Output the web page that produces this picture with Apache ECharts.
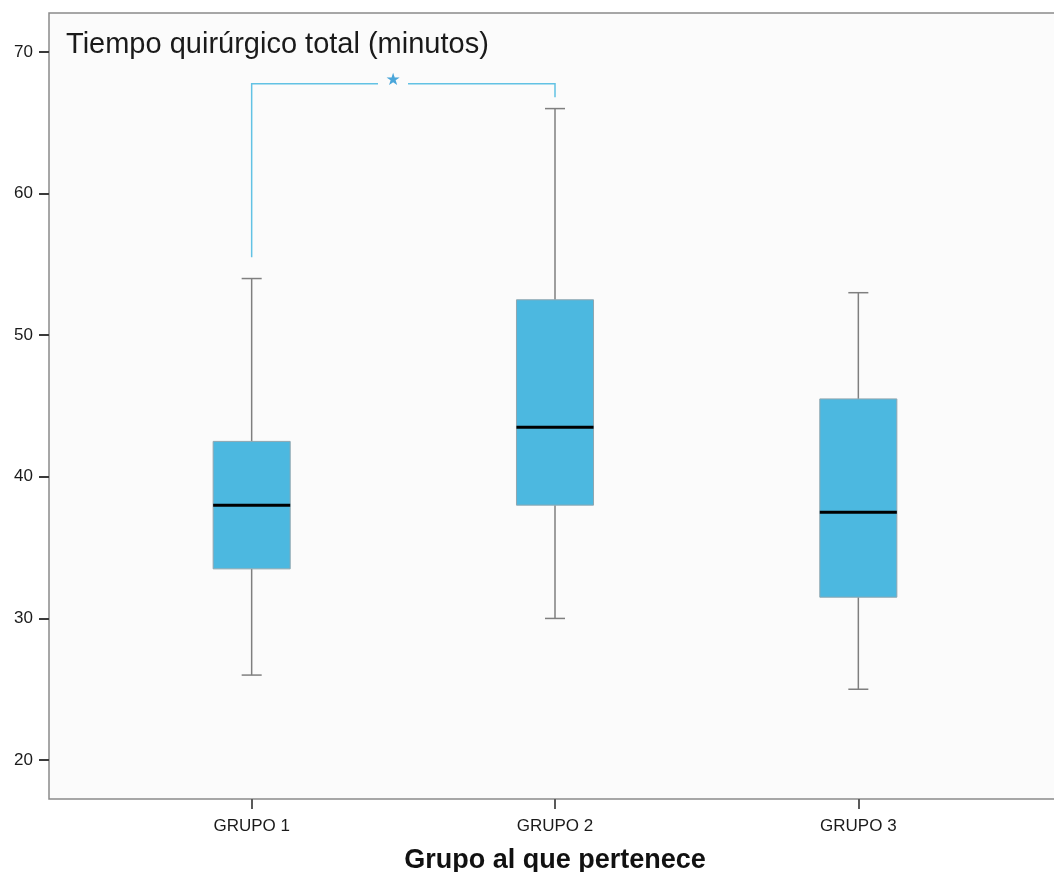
<!DOCTYPE html>
<html>
<head>
<meta charset="utf-8">
<style>
  html, body { margin: 0; padding: 0; background: #ffffff; }
  #chart { width: 1054px; height: 872px; }
</style>
<script src="https://cdn.jsdelivr.net/npm/echarts@6/dist/echarts.min.js"></script>
</head>
<body>
<div id="chart"></div>
<script>
// ----- Data -----
const categories = ['GRUPO 1', 'GRUPO 2', 'GRUPO 3'];
const whiskerLow = [26, 30, 25];
const quartile1 = [33.5, 38, 31.5];
const median = [38, 43.5, 37.5];
const quartile3 = [42.5, 52.5, 45.5];
const whiskerHigh = [54, 66, 53];
const yTicks = [20, 30, 40, 50, 60, 70];

// significance bracket: [fromIdx, toIdx, level, leftEnd, rightEnd]
const bracketPairs = [[0, 1, 67.75, 55.5, 66.8]];
const bracketMarks = ['★'];

const FONT = '"Liberation Sans", Arial, sans-serif';
const BOX_FILL = '#4cb8e0';
const LINE_GREY = '#7f7f7f';
const BRACKET_BLUE = '#62c2e4';

// ----- Renderers -----
function renderBox(params, api) {
  const x = api.value(0);
  const pLow = api.coord([x, api.value(1)]);
  const pQ1 = api.coord([x, api.value(2)]);
  const pMed = api.coord([x, api.value(3)]);
  const pQ3 = api.coord([x, api.value(4)]);
  const pHigh = api.coord([x, api.value(5)]);
  const band = api.size([1, 0])[0];
  const half = band * 0.127;
  const cap = band * 0.033;
  const cx = pMed[0];
  const grey = { stroke: LINE_GREY, lineWidth: 1.5 };
  return {
    type: 'group',
    children: [
      { type: 'line', shape: { x1: cx, y1: pHigh[1], x2: cx, y2: pQ3[1] }, style: grey },
      { type: 'line', shape: { x1: cx, y1: pQ1[1], x2: cx, y2: pLow[1] }, style: grey },
      { type: 'line', shape: { x1: cx - cap, y1: pHigh[1], x2: cx + cap, y2: pHigh[1] }, style: grey },
      { type: 'line', shape: { x1: cx - cap, y1: pLow[1], x2: cx + cap, y2: pLow[1] }, style: grey },
      {
        type: 'rect',
        shape: { x: cx - half, y: pQ3[1], width: half * 2, height: pQ1[1] - pQ3[1] },
        style: { fill: BOX_FILL, stroke: '#8fa6b0', lineWidth: 1 }
      },
      {
        type: 'line',
        shape: { x1: cx - half, y1: pMed[1], x2: cx + half, y2: pMed[1] },
        style: { stroke: '#000000', lineWidth: 3 }
      }
    ]
  };
}

function renderBracket(params, api) {
  const a = api.value(0), b = api.value(1);
  const level = api.value(2);
  const pL = api.coord([a, level]);
  const pR = api.coord([b, level]);
  const pLe = api.coord([a, api.value(3)]);
  const pRe = api.coord([b, api.value(4)]);
  const starX = pL[0] + (pR[0] - pL[0]) * 0.466;
  const gap = 15;
  const st = { stroke: BRACKET_BLUE, lineWidth: 1.5 };
  return {
    type: 'group',
    children: [
      { type: 'polyline', shape: { points: [[pLe[0], pLe[1]], [pL[0], pL[1]], [starX - gap, pL[1]]] }, style: Object.assign({ fill: 'none' }, st) },
      { type: 'polyline', shape: { points: [[starX + gap, pR[1]], [pR[0], pR[1]], [pRe[0], pRe[1]]] }, style: Object.assign({ fill: 'none' }, st) },
      {
        type: 'text',
        style: {
          text: bracketMarks[params.dataIndex], x: starX, y: pL[1] - 3,
          fill: '#4aa6da', font: '17px "DejaVu Sans", sans-serif', align: 'center', verticalAlign: 'middle'
        }
      }
    ]
  };
}

// ----- Chart -----
const chart = echarts.init(document.getElementById('chart'), null, { renderer: 'canvas' });

chart.setOption({
  backgroundColor: '#ffffff',
  animation: false,
  title: {
    text: 'Tiempo quirúrgico total (minutos)',
    left: 66,
    top: 30,
    padding: 0,
    textStyle: { fontFamily: FONT, fontSize: 29, fontWeight: 'normal', color: '#1a1a1a' }
  },
  grid: [
    // frame / plot background, runs off the right edge
    {
      left: 49, width: 1200, top: 13, bottom: 73, outerBoundsMode: 'none',
      show: true, backgroundColor: '#fbfbfb', borderColor: '#8a8a8a', borderWidth: 1.5, z: 0
    },
    // data grid
    { left: 100, right: 44, top: 13, bottom: 73, outerBoundsMode: 'none' }
  ],
  xAxis: [
    { gridIndex: 0, type: 'value', show: false },
    {
      gridIndex: 1,
      type: 'category',
      data: categories,
      boundaryGap: true,
      axisLine: { show: false },
      axisTick: { show: true, inside: false, alignWithLabel: true, length: 10, lineStyle: { color: '#5a5a5a', width: 2 } },
      axisLabel: { margin: 19, fontFamily: FONT, fontSize: 17, color: '#1a1a1a' },
      name: 'Grupo al que pertenece',
      nameLocation: 'middle',
      nameGap: 48,
      nameTextStyle: { fontFamily: FONT, fontSize: 27, fontWeight: 'bold', color: '#111111' }
    }
  ],
  yAxis: [
    { gridIndex: 0, type: 'value', show: false },
    {
      gridIndex: 1,
      type: 'value',
      min: 17.25,
      max: 72.75,
      offset: 51,
      axisLine: { show: false },
      splitLine: { show: false },
      axisTick: { show: true, length: 10, customValues: yTicks, lineStyle: { color: '#3a3a3a', width: 2 } },
      axisLabel: { margin: 16, customValues: yTicks, fontFamily: FONT, fontSize: 17, color: '#1a1a1a' }
    }
  ],
  series: [
    {
      type: 'custom',
      xAxisIndex: 1,
      yAxisIndex: 1,
      renderItem: renderBox,
      encode: { x: 0, y: [1, 2, 3, 4, 5] },
      data: categories.map((c, i) => [i, whiskerLow[i], quartile1[i], median[i], quartile3[i], whiskerHigh[i]]),
      z: 3
    },
    {
      type: 'custom',
      xAxisIndex: 1,
      yAxisIndex: 1,
      renderItem: renderBracket,
      encode: { x: [0, 1], y: [2, 3, 4] },
      data: bracketPairs,
      z: 4
    }
  ]
});
</script>
</body>
</html>
